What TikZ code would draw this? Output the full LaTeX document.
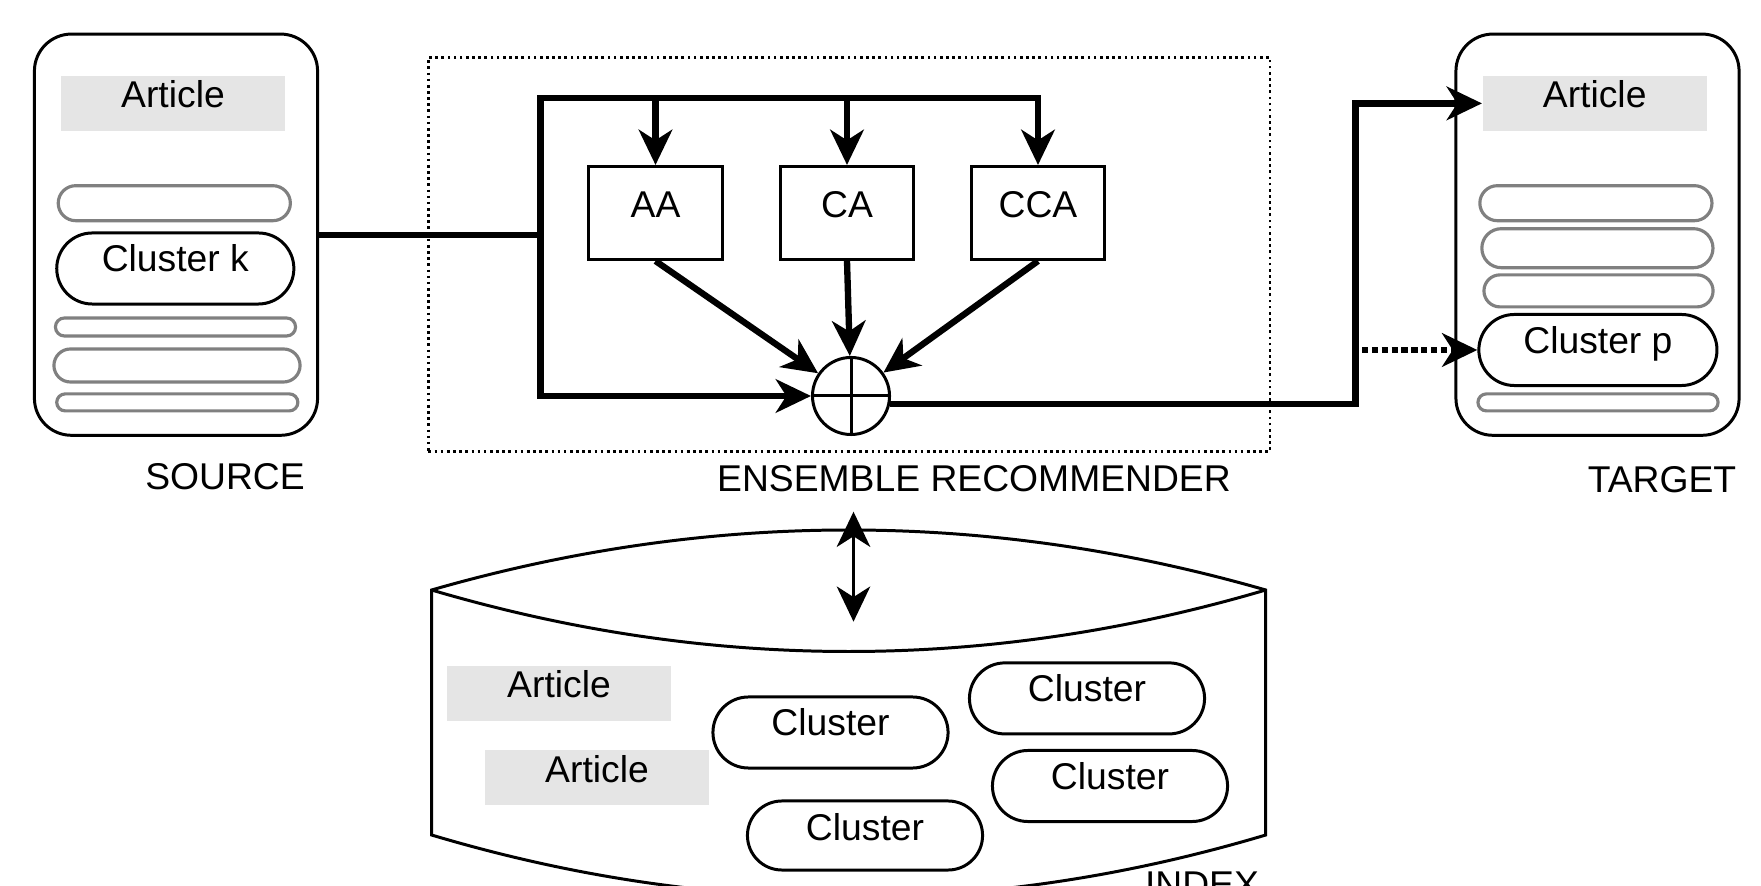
\documentclass[tikz,border=0pt]{standalone}
\usepackage{fontspec}
\setmainfont{Liberation Sans}
\usepackage{tikz}
\usetikzlibrary{arrows.meta}
\usetikzlibrary{shapes.misc}
\tikzstyle{line} = [draw, -{Stealth[length=10pt,width=9.5pt,inset=3pt]}, line width=1.8pt]
\tikzstyle{dotline} = [line, densely dotted]
\tikzstyle{twoway} = [draw, {Stealth[length=10pt,width=9.5pt,inset=3pt]}-{Stealth[length=10pt,width=9.5pt,inset=3pt]}, line width=1pt]
\tikzstyle{store} = [draw, line width=0.85pt, rounded corners=0.37cm, minimum width=2.83cm, minimum height=4.01cm]
\tikzstyle{artbox} = [fill=gray!20, inner sep=0pt, minimum width=2.24cm, text height=0.32cm, text depth=0.23cm]
\tikzstyle{cluster} = [draw, rounded rectangle, line width=0.85pt, inner sep=0pt, minimum width=2.37cm, text height=0.39cm, text depth=0.32cm]
\tikzstyle{empty} = [draw=gray, rounded rectangle, line width=0.9pt, inner sep=0pt]
\tikzstyle{algo} = [draw, line width=0.85pt, inner sep=0pt, minimum width=1.33cm, text height=0.51cm, text depth=0.42cm]

\begin{document}
\begin{tikzpicture}[x=0.01cm, y=-0.01cm]
	\tikzstyle{every node}=[font=\fontsize{10.6}{12.7}\selectfont]
	\useasboundingbox (0,0) rectangle (1761,886);
	\clip (0,0) rectangle (1761,886);
	
	% ------------------- Source ------------------- %
	\node[store] (src) at (176,234.7) {};
	\node[artbox] (srcart) at (173,103.4) {Article};
	\node[empty, minimum width=2.32cm, minimum height=0.35cm] (srcg1) at (174.3,203.2) {};
	\node[cluster] (srck) at (175.3,268.5) {Cluster k};
	\node[empty, minimum width=2.40cm, minimum height=0.18cm] (srcg2) at (175.5,327) {};
	\node[empty, minimum width=2.46cm, minimum height=0.33cm] (srcg3) at (177,365.5) {};
	\node[empty, minimum width=2.41cm, minimum height=0.17cm] (srcg4) at (177.3,402.4) {};
	\node[anchor=base] (srclabel) at (225,490) {SOURCE};
	
	% ------------------- Ensemble recommender ------------------- %
	\node[draw, densely dotted, line width=0.75pt, minimum width=8.41cm, minimum height=3.94cm] (ensbox) at (849.2,254.5) {};
	\node[algo] (aa) at (655.5,213) {AA};
	\node[algo] (ca) at (847,213) {CA};
	\node[algo] (cca) at (1038,213) {CCA};
	\node[draw, circle, line width=0.85pt, minimum size=0.77cm, inner sep=0pt] (sum) at (851,396) {};
	\draw[line width=0.85pt] (sum.north) -- (sum.south);
	\draw[line width=0.85pt] (sum.west) -- (sum.east);
	\node[anchor=base] (enslabel) at (974,492) {ENSEMBLE RECOMMENDER};
	
	% ------------------- Target ------------------- %
	\node[store] (tgt) at (1597.5,234.7) {};
	\node[artbox] (tgtart) at (1594.7,103.4) {Article};
	\node[empty, minimum width=2.32cm, minimum height=0.35cm] (tgtg1) at (1595.9,203.2) {};
	\node[empty, minimum width=2.31cm, minimum height=0.39cm] (tgtg2) at (1597.4,248.2) {};
	\node[empty, minimum width=2.29cm, minimum height=0.32cm] (tgtg3) at (1598.5,290.9) {};
	\node[cluster, minimum width=2.38cm] (clp) at (1597.9,350) {Cluster p};
	\node[empty, minimum width=2.40cm, minimum height=0.17cm] (tgtg4) at (1598,402.4) {};
	\node[anchor=base] (tgtlabel) at (1662,492.7) {TARGET};
	
	% ------------------- Index ------------------- %
	\draw[line width=0.85pt] (431.6,590) .. controls (709.6,510) and (987.7,510) .. (1265.7,590) -- (1265.7,835) .. controls (987.7,918) and (709.6,918) .. (431.6,835) -- cycle;
	\draw[line width=0.85pt] (431.6,590) .. controls (709.6,672) and (987.7,672) .. (1265.7,590);
	\node[artbox] (idxart1) at (559,693.4) {Article};
	\node[artbox] (idxart2) at (597,777.5) {Article};
	\node[cluster, minimum width=2.35cm] (idxc1) at (830.5,732.5) {Cluster};
	\node[cluster, minimum width=2.35cm] (idxc2) at (1087,698.4) {Cluster};
	\node[cluster, minimum width=2.35cm] (idxc3) at (1110,786) {Cluster};
	\node[cluster, minimum width=2.35cm, text depth=0.30cm] (idxc4) at (865,835.5) {Cluster};
	\node[anchor=base] (idxlabel) at (1202,897) {INDEX};
	
	% ------------------- Connectors ------------------- %
	\coordinate (split) at (540.6,234.7);
	\coordinate (top) at (540.6,97.7);
	\coordinate (sumout) at (sum.-12);
	\coordinate (bend) at (1355.6,103.4);
	\coordinate (dotstart) at (1362,350);
	\coordinate (dbtop) at (853.5,511.7);
	\coordinate (dbbot) at (853.5,621.7);
	
	\draw[line width=1.8pt] (src.east) -- (split);
	\draw[line] (split) -- (top) -| (cca.north);
	\draw[line] (top -| aa.north) -- (aa.north);
	\draw[line] (top -| ca.north) -- (ca.north);
	\draw[line] (split) |- (sum.west);
	\draw[line] (aa.south) -- (sum);
	\draw[line] (ca.south) -- (sum);
	\draw[line] (cca.south) -- (sum);
	\draw[line] (sumout) -| (bend) -- (tgtart.west);
	\draw[dotline] (dotstart) -- (clp.west);
	\draw[twoway] (dbtop) -- (dbbot);
\end{tikzpicture}
\end{document}
